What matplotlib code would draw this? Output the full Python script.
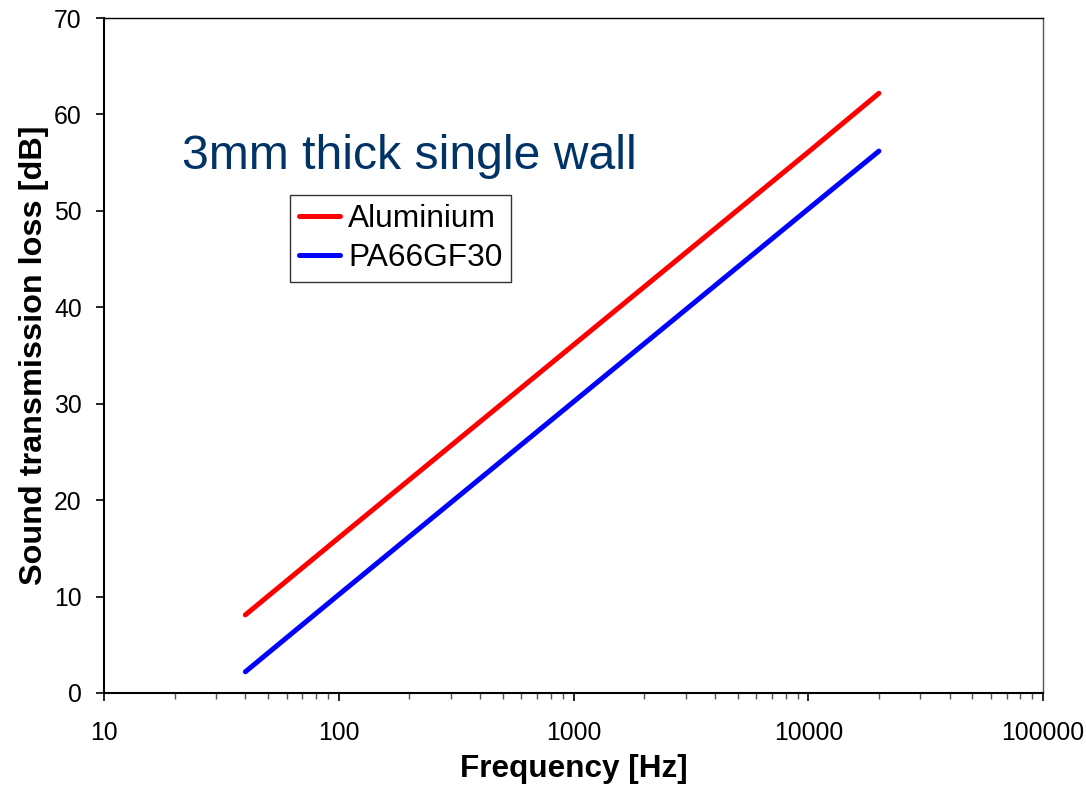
import matplotlib.pyplot as plt
import matplotlib.ticker as ticker

plt.rcParams['font.family'] = ['Liberation Sans', 'DejaVu Sans']

freq = [40, 100, 1000, 10000, 20000]
aluminium = [8.1, 16.1, 36.1, 56.1, 62.2]
pa66gf30 = [2.2, 10.2, 30.2, 50.2, 56.2]

fig = plt.figure(figsize=(10.86, 7.85), dpi=100)
ax = fig.add_axes([0.0958, 0.1172, 0.8646, 0.8598])

ax.plot(freq, aluminium, color='#ff0000', lw=3.6, solid_capstyle='round', label='Aluminium')
ax.plot(freq, pa66gf30, color='#0000ff', lw=3.6, solid_capstyle='round', label='PA66GF30')

ax.set_xscale('log')
ax.set_xlim(10, 100000)
ax.set_ylim(0, 70)
ax.xaxis.set_major_formatter(ticker.FuncFormatter(lambda v, p: f'{v:.0f}'))
ax.xaxis.set_minor_locator(ticker.LogLocator(base=10, subs=range(2, 10)))
ax.xaxis.set_minor_formatter(ticker.NullFormatter())
ax.set_yticks(range(0, 71, 10))

ax.tick_params(axis='both', which='major', direction='out', length=6, width=1.2, labelsize=17.8)
ax.tick_params(axis='y', which='major', pad=10)
ax.tick_params(axis='x', which='major', pad=14)
ax.tick_params(axis='x', which='minor', direction='out', length=4, width=1, color='#555555')

for s in ['left', 'bottom']:
    ax.spines[s].set_linewidth(1.5)
for s in ['top', 'right']:
    ax.spines[s].set_linewidth(1)
ax.spines['right'].set_color('#555555')

ax.set_xlabel('Frequency [Hz]', fontsize=22.7, fontweight='bold', labelpad=7)
ax.set_ylabel('Sound transmission loss [dB]', fontsize=23.3, fontweight='bold', labelpad=4)

ax.text(0.083, 0.795, '3mm thick single wall', transform=ax.transAxes,
        fontsize=34.7, color='#003366', va='center', ha='left')

leg = ax.legend(loc='upper left', bbox_to_anchor=(0.198, 0.738), fontsize=22.8,
                frameon=True, fancybox=False, edgecolor='black', handlelength=1.3,
                handletextpad=0.25, borderpad=0.28, labelspacing=0.3, borderaxespad=0)
leg.get_frame().set_linewidth(1)

fig.savefig('out.png', dpi=100)
